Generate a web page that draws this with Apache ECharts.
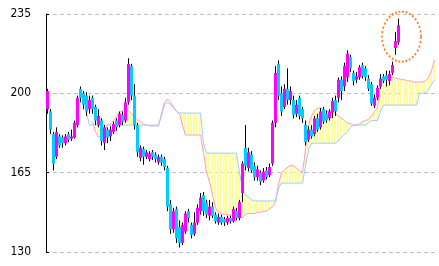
<!DOCTYPE html>
<html><head><meta charset="utf-8">
<script src="https://cdn.jsdelivr.net/npm/echarts@6/dist/echarts.min.js"></script>
<style>html,body{margin:0;padding:0;background:#fff}#c{width:439px;height:266px}</style>
</head><body><div id="c"></div>
<script>
const yTicks = [130, 165, 200, 235];
const openP = [193,192,182,172,181,180.5,178,182,180,180.5,186,202,200,199,193,198,194,186,188,178,184,181,183,188,186,190.5,188,196,212,199,186,171.5,175.5,172,171,174,173,169.5,172,171,167,151,140,149,141,134,139,148,142,138,143,148,155,152,146,150,146.5,143,145.5,144.5,143,145,143.5,148,145,156,176,167,173,168,163,165,161.5,166,164,169,187,213,200,194,202,197,197,191,198,193,186,179.5,184,182,189,185,193,191,189,191.5,197,198,206,203,207,216,209,206,207,212.5,211,206.5,204,194.5,198,203,207.5,208,205.5,209,220,222.5];
const closeP = [201,184,169,183,177,178,181,179.5,181,187,198,198,195,192,197,193,188,190,179,185,180.5,184,186.5,185,191,187.5,196,213,199,186,174,176,172,174,173.5,172,171,172,169.5,167.5,150,140,148,136,134,142,147,145,137.5,143,149.5,154,148,146.5,150,146,143.5,145.5,143,143,145,143.5,149,145,152,169,168,174,166,163,166.5,161,165.5,163,167.5,187,209,199,192,202,197,201,190.5,195,190,189,178.5,184,181,189,184,192,187.5,188,192,196.5,192,206,201,212,217.5,211,205.5,207.5,211.5,207.5,207,202,195.5,198,202.5,206.5,205.5,206,208.5,212.5,223,230];
const lowP = [191,182,166,171,176,176,177,178.5,179,180,185,196,193,190,191,191,186,185,177,175,178,179,182,183.5,185,186,187,195,197,184,172,170,168.5,171,170,170.5,169.5,168.5,168,166,148,138,138.5,134,132,133,138,143,136,137,142,146.5,146,145,144,145,142.5,142,142,141.5,142,142.5,143,144,144,152,166,165.5,165,161.5,161.5,159.5,160.5,162,163,168,185,197,190,193,195,195,189,189.5,188.5,187,177,178.5,180,181,183,184,186.5,187,188,189,190,196,197,201,205,209.5,203.5,204.5,206,206.5,205.5,201,194.5,193.5,197,202,204.5,203,203.5,208,217,221.5];
const highP = [202,193,183,185,182,181.5,182,183,184,188,199,203,201,200.5,199,199,195,193,189,186,185,185.5,187.5,189,192,192,198,215.5,213,204,187,177,176.5,175,174.5,175,174,173,173,172,168,153,149.5,150,144,143,148,149,143,147.5,151,156,156.5,153,153,152,147.5,147,146.5,145.5,146,146,150,149.5,153,170,186,176,174.5,169.5,168,166,167,167.5,169,188,212,214.5,203,204,211,203,199,197,199,194,188,185.5,186,190,191,193.5,194,192.5,193,198,199,207,207.5,213.5,219,217,210,209.5,212.5,213.5,212,208,205,199.5,203.5,208.5,208.5,210,210,214,227,233];
const spanA = [null,null,null,null,null,null,null,null,null,null,null,null,null,null,null,
187.5,183,180.7,181,183.5,186,186.5,188,190,191.5,192.5,193.5,192.5,191,189.5,188.5,187.5,186.5,186,185.6,185.6,185.6,185.6,191,196,197.5,196,194,192,191,186,181.6,181.6,181.6,181.6,181.6,181.6,174,165,161,155,149.5,147.5,147,146.5,146.5,146.3,146,146,145.5,145,146.5,147,147,147,147.5,147.5,148,148,149,150,152,160,165,166,167.5,168.3,168,167,166,165,175,186,190,192.5,193.5,193.5,193,192,192,191.5,191,190,189,188,187,186.5,186,186,186.5,187.5,188,188.5,190,192,193.5,205,207,207.2,207.5,207,206.7,206.5,206,206,205.5,205.5,205,205,205,205,205.5,207,210,214.7,null];
const spanB = [null,null,null,null,null,null,null,null,null,null,null,null,null,
191.3,186,186,186,186,186,186,186,186,186,186,186,186,186,186,186,186,186,186,186,186,186,186,186,186,190,195,196,195,193.5,192,191.3,191.3,191.3,191.3,191.3,191.3,191.3,191.3,178,173.6,173.6,173.6,173.6,173.6,173.6,173.6,173.6,173.6,173.6,173.6,165,158,155,154.5,153,152.5,152.5,152.5,152.5,152.5,152.5,152.5,152.5,158,160.4,160.4,160.4,160.4,160.4,160.4,160.4,160.4,168,175,178,178,178,178,178,178,178,178,178,179,180.5,182,183,185,186,186,186,186,186,187,188,188,188,192,194.8,194.8,194.8,194.8,194.8,194.8,194.8,194.8,194.8,194.8,194.8,194.8,200,200,200.5,201.5,204,206,null];
const markValue = 225;

const N = spanA.length;
const cats = Array.from({length: N}, (_, i) => String(i));
const candleData = openP.map((o, i) => [i, o, closeP[i], lowP[i], highP[i]]);
const cloudData = [];
for (let i = 0; i < N; i++) {
  if (spanA[i] != null && spanB[i] != null) cloudData.push([i, spanA[i], spanB[i]]);
}

function renderCloud(params, api) {
  const i = api.value(0);
  const a = api.coord([i, api.value(1)]);
  const b = api.coord([i, api.value(2)]);
  const x = Math.round(a[0] - 1.5);
  return {type: 'rect', shape: {x: x, y: Math.min(a[1], b[1]), width: 2, height: Math.abs(a[1] - b[1])},
          style: {fill: '#FFFF99'}};
}
function renderCandle(params, api) {
  const i = api.value(0), o = api.value(1), c = api.value(2), l = api.value(3), h = api.value(4);
  const pO = api.coord([i, o]), pC = api.coord([i, c]), pL = api.coord([i, l]), pH = api.coord([i, h]);
  const x = Math.round(pO[0] - 1.5);
  const top = Math.min(pO[1], pC[1]), bot = Math.max(pO[1], pC[1]);
  const color = c >= o ? '#FF00FF' : '#00CCFF';
  return {type: 'group', children: [
    {type: 'line', shape: {x1: x + 1.5, y1: pH[1], x2: x + 1.5, y2: pL[1]}, style: {stroke: '#000', lineWidth: 1}},
    {type: 'rect', shape: {x: x, y: top, width: 3, height: Math.max(1, bot - top)}, style: {fill: color}}
  ]};
}

const chart = echarts.init(document.getElementById('c'), null, {renderer: 'canvas'});
chart.setOption({
  animation: false,
  grid: {left: 46, right: 0, top: 14, bottom: 14},
  xAxis: {type: 'category', data: cats, boundaryGap: true, show: false},
  yAxis: {
    type: 'value', min: yTicks[0], max: yTicks[yTicks.length - 1], interval: yTicks[1] - yTicks[0],
    axisLine: {show: true, lineStyle: {color: '#000', width: 1}},
    axisTick: {show: true, inside: true, length: 3, lineStyle: {color: '#000'}},
    axisLabel: {color: '#000', fontSize: 12, margin: 15,
      fontFamily: "'Liberation Sans Narrow', 'DejaVu Sans Condensed', 'Liberation Sans', sans-serif"},
    splitLine: {show: true, lineStyle: {color: '#C0C0C0', width: 1, type: [4, 3]}}
  },
  series: [
    {type: 'custom', renderItem: renderCloud, data: cloudData, encode: {x: 0, y: [1, 2]}, z: 1, silent: true},
    {type: 'line', data: spanA, symbol: 'none', lineStyle: {color: '#FF99CC', width: 1}, z: 2, silent: true},
    {type: 'line', data: spanB, symbol: 'none', lineStyle: {color: '#99CCFF', width: 1}, z: 2, silent: true},
    {type: 'custom', renderItem: renderCandle, data: candleData, encode: {x: 0, y: [1, 2, 3, 4]}, z: 5, silent: true},
    {type: 'scatter', data: [[openP.length - 1, markValue]], symbol: 'circle', symbolSize: [39, 50], symbolOffset: [3, 0],
      itemStyle: {color: 'rgba(0,0,0,0)', borderColor: '#FF6600', borderWidth: 2, borderType: [2, 2]}, z: 6, silent: true}
  ]
});
</script></body></html>
